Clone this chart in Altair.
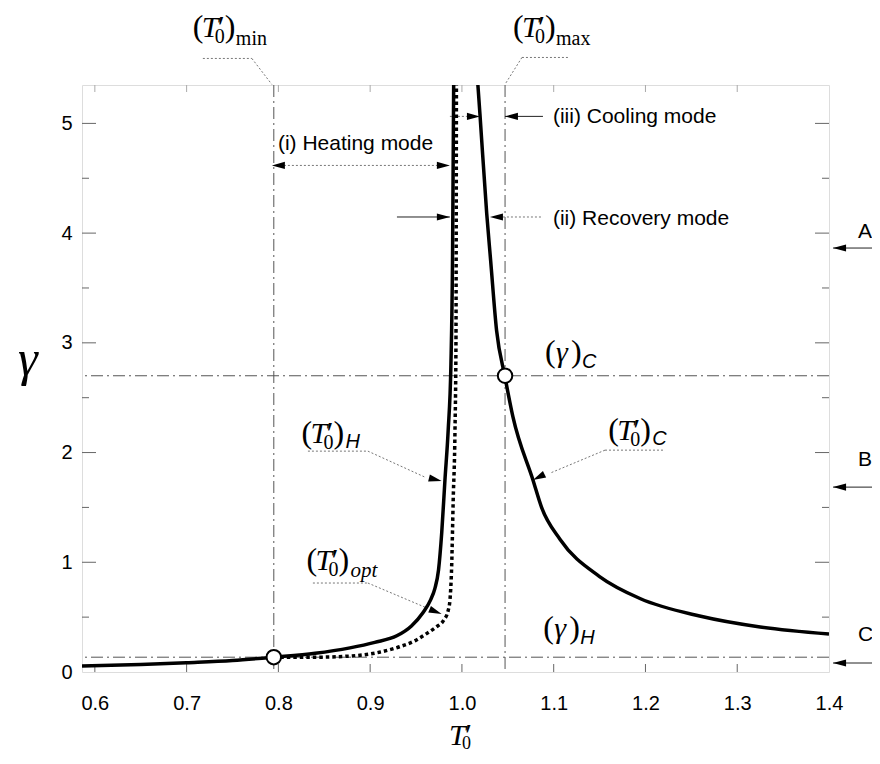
import altair as alt
import pandas as pd

# ---------------- data ----------------
h_x = [0.586, 0.65, 0.70, 0.75, 0.795, 0.84, 0.878, 0.905, 0.929, 0.945, 0.9575, 0.966, 0.9705, 0.9745, 0.978, 0.9815, 0.985, 0.988, 0.9898, 0.991]
h_y = [0.055, 0.068, 0.085, 0.105, 0.135, 0.17, 0.22, 0.27, 0.33, 0.42, 0.54, 0.66, 0.76, 0.93, 1.27, 1.75, 2.2, 2.8, 3.8, 5.35]
opt_x = [0.795, 0.84, 0.878, 0.91, 0.932, 0.95, 0.9615, 0.972, 0.98, 0.985, 0.987, 0.9888, 0.9905, 0.9924, 0.9935, 0.994]
opt_y = [0.135, 0.135, 0.145, 0.18, 0.23, 0.29, 0.35, 0.41, 0.47, 0.56, 0.66, 0.96, 1.57, 2.18, 3.0, 5.35]
c_x = [1.0174, 1.0196, 1.027, 1.0313, 1.0378, 1.0469, 1.0556, 1.0774, 1.0868, 1.1068, 1.15, 1.194, 1.259, 1.325, 1.4]
c_y = [5.35, 5.09, 4.18, 3.75, 3.11, 2.69, 2.325, 1.75, 1.50, 1.21, 0.87, 0.67, 0.51, 0.41, 0.346]

T_min, T_max = 0.795, 1.047
gamma_C, gamma_H = 2.70, 0.135

x_ticks = [0.6, 0.7, 0.8, 0.9, 1.0, 1.1, 1.2, 1.3, 1.4]
y_ticks = [0, 1, 2, 3, 4, 5]
y_major = [1, 2, 3, 4, 5]
y_minor = [0.5, 1.5, 2.5, 3.5, 4.5]
x_inner = [0.6, 0.7, 0.8, 0.9, 1.0, 1.1, 1.2, 1.3]

mode_text = ["(i) Heating mode", "(iii) Cooling mode", "(ii) Recovery mode"]
mode_x = [0.7995, 1.0992, 1.0992]
mode_y = [4.754, 5.0, 4.071]

side_text = ["A", "B", "C"]
side_label_y = [4.007, 1.931, 0.337]
side_arrow_y = [3.864, 1.685, 0.082]

# leader (dotted grey) segments
lead_x = [0.7177, 0.7711, 1.0654, 1.0654, 0.8322, 0.8975, 0.8376, 0.8975, 1.1559, 1.1559, 0.806, 0.9869, 1.0447]
lead_y = [5.592, 5.592, 5.601, 5.601, 2.013, 2.013, 0.811, 0.811, 2.022, 2.022, 4.617, 5.064, 4.147]
lead_x2 = [0.7711, 0.7929, 1.1155, 1.0469, 0.8975, 0.9597, 0.8975, 0.9619, 1.2213, 1.0959, 0.974, 1.0054, 1.0883]
lead_y2 = [5.592, 5.355, 5.601, 5.355, 2.013, 1.776, 0.811, 0.583, 2.022, 1.812, 4.617, 5.064, 4.147]

# thin solid arrow shafts
shaft_x = [0.9292, 1.0469, 1.4044, 1.4044, 1.4044]
shaft_y = [4.147, 5.064] + side_arrow_y
shaft_x2 = [0.9869, 1.0883, 1.4556, 1.4556, 1.4556]

# arrow heads: tip position and direction (degrees clockwise, 0 = pointing right)
head_x = [0.7929, 0.9869, 1.0196, 1.0469, 0.9869, 1.0305, 0.9779, 0.9779, 1.0774, 1.4044, 1.4044, 1.4044]
head_y = [4.617, 4.617, 5.064, 5.064, 4.147, 4.147, 1.740, 0.528, 1.749] + side_arrow_y
head_a = [180, 0, 0, 180, 0, 180, 14, 22, 153, 180, 180, 180]

# math labels (anchor = left edge / baseline)
tl_x = [0.7068, 1.0556, 0.8253, 0.8307, 1.1595]
tl_y = [5.783, 5.783, 2.086, 0.929, 2.113]
tl_sub = ["min", "max", "H", "opt", "C"]
gl_x = [1.0905, 1.0886]
gl_y = [2.826, 0.31]
gl_sub = ["C", "H"]

# ---------------- chart ----------------
W, H = 747, 587
xs = alt.Scale(domain=[0.586, 1.4], nice=False, zero=False)
ys = alt.Scale(domain=[0, 5.35], nice=False, zero=False)
xaxis = alt.Axis(values=x_ticks, format=".1f", ticks=False, domain=False, grid=False,
                 labelFont="Liberation Sans", labelFontSize=20, labelColor="black",
                 labelPadding=21, labelFlush=False, title=None)
yaxis = alt.Axis(values=y_ticks, format="d", ticks=False, domain=False, grid=False,
                 labelFont="Liberation Sans", labelFontSize=20, labelColor="black",
                 labelPadding=10, title=None)


def X(f):
    return alt.X(f, type="quantitative", scale=xs, axis=xaxis)


def Y(f):
    return alt.Y(f, type="quantitative", scale=ys, axis=yaxis)


layers = []

# inner tick marks
layers.append(alt.Chart(pd.DataFrame({"x": x_inner})).mark_rule(color="#666", strokeWidth=1)
              .encode(x=X("x"), y=alt.value(H), y2=alt.value(H - 8)))
layers.append(alt.Chart(pd.DataFrame({"x": x_inner})).mark_rule(color="#aaa", strokeWidth=1)
              .encode(x=X("x"), y=alt.value(0), y2=alt.value(7)))
for vals, ln in ((y_major, 14), (y_minor, 7)):
    layers.append(alt.Chart(pd.DataFrame({"y": vals})).mark_rule(color="#666", strokeWidth=1)
                  .encode(y=Y("y"), x=alt.value(0), x2=alt.value(ln)))
    layers.append(alt.Chart(pd.DataFrame({"y": vals})).mark_rule(color="#666", strokeWidth=1)
                  .encode(y=Y("y"), x=alt.value(W), x2=alt.value(W - ln)))

# reference dash-dot lines
layers.append(alt.Chart(pd.DataFrame({"x": [T_min, T_max]}))
              .mark_rule(color="#555", strokeWidth=1, strokeDash=[12, 4, 2, 4]).encode(x=X("x")))
layers.append(alt.Chart(pd.DataFrame({"y": [gamma_C, gamma_H]}))
              .mark_rule(color="#555", strokeWidth=1, strokeDash=[12, 4, 2, 4]).encode(y=Y("y")))

# leaders and shafts
layers.append(alt.Chart(pd.DataFrame({"x": lead_x, "y": lead_y, "x2": lead_x2, "y2": lead_y2}))
              .mark_rule(color="#777", strokeWidth=1, strokeDash=[2, 2])
              .encode(x=X("x"), y=Y("y"), x2="x2", y2="y2"))
layers.append(alt.Chart(pd.DataFrame({"x": shaft_x, "y": shaft_y, "x2": shaft_x2}))
              .mark_rule(color="#222", strokeWidth=1)
              .encode(x=X("x"), y=Y("y"), x2="x2"))

# curves
layers.append(alt.Chart(pd.DataFrame({"x": h_x, "y": h_y}))
              .mark_line(color="black", strokeWidth=3.5, interpolate="monotone", clip=True)
              .encode(x=X("x"), y=Y("y")))
layers.append(alt.Chart(pd.DataFrame({"x": c_x, "y": c_y}))
              .mark_line(color="black", strokeWidth=3.5, interpolate="monotone", clip=True)
              .encode(x=X("x"), y=Y("y")))
layers.append(alt.Chart(pd.DataFrame({"x": opt_x, "y": opt_y}))
              .mark_line(color="black", strokeWidth=3.5, strokeDash=[3.5, 3], interpolate="monotone", clip=True)
              .encode(x=X("x"), y=Y("y")))

# open circles
layers.append(alt.Chart(pd.DataFrame({"x": [T_min, T_max], "y": [gamma_H, gamma_C]}))
              .mark_point(shape="circle", filled=True, fill="white", stroke="black", strokeWidth=2,
                          size=210, opacity=1)
              .encode(x=X("x"), y=Y("y")))

# arrow heads
ARROW = "M 0 0 L -2 -0.55 L -2 0.55 Z"
layers.append(alt.Chart(pd.DataFrame({"x": head_x, "y": head_y, "a": head_a}))
              .mark_point(shape=ARROW, filled=True, color="black", size=169, opacity=1)
              .encode(x=X("x"), y=Y("y"), angle=alt.Angle("a", type="quantitative", scale=None)))

# plain texts
layers.append(alt.Chart(pd.DataFrame({"x": mode_x, "y": mode_y, "t": mode_text}))
              .mark_text(font="Liberation Sans", fontSize=21, align="left", baseline="alphabetic", color="black")
              .encode(x=X("x"), y=Y("y"), text="t"))
layers.append(alt.Chart(pd.DataFrame({"x": [1.4316] * 3, "y": side_label_y, "t": side_text}))
              .mark_text(font="Liberation Sans", fontSize=21, align="left", baseline="middle", color="black")
              .encode(x=X("x"), y=Y("y"), text="t"))


def piece(xv, yv, text, dx, dy, size, font="Liberation Serif", style="normal"):
    return (alt.Chart(pd.DataFrame({"x": xv, "y": yv, "t": text}))
            .mark_text(font=font, fontSize=size, fontStyle=style, align="left",
                       baseline="alphabetic", dx=dx, dy=dy, color="black")
            .encode(x=X("x"), y=Y("y"), text="t"))


n = len(tl_x)
layers.append(piece(tl_x, tl_y, ["("] * n, 0, 0, 32))
layers.append(piece(tl_x, tl_y, ["T"] * n, 9, 0, 30, style="italic"))
layers.append(piece(tl_x, tl_y, ["\u2032"] * n, 25, 1, 32))
layers.append(piece(tl_x, tl_y, ["0"] * n, 22, 6, 20))
layers.append(piece(tl_x, tl_y, [")"] * n, 32, 0, 32))
layers.append(piece(tl_x[:2], tl_y[:2], tl_sub[:2], 43, 8, 20))
layers.append(piece([tl_x[2], tl_x[4]], [tl_y[2], tl_y[4]], [tl_sub[2], tl_sub[4]], 44, 5, 20,
                    font="Liberation Sans", style="italic"))
layers.append(piece([tl_x[3]], [tl_y[3]], [tl_sub[3]], 44, 7, 21, style="italic"))

m = len(gl_x)
layers.append(piece(gl_x, gl_y, ["("] * m, 0, 0, 32))
layers.append(piece(gl_x, gl_y, ["\u03b3"] * m, 11, 0, 30, style="italic"))
layers.append(piece(gl_x, gl_y, [")"] * m, 26, 0, 32))
layers.append(piece(gl_x, gl_y, gl_sub, 37, 6, 20, font="Liberation Sans", style="italic"))

# axis titles
layers.append(alt.Chart(pd.DataFrame({"x": [0.527], "y": [2.842], "t": ["\u03b3"]}))
              .mark_text(font="Liberation Serif", fontSize=50, fontStyle="italic", align="center",
                         baseline="middle", color="black")
              .encode(x=X("x"), y=Y("y"), text="t"))
layers.append(piece([0.9858], [-0.665], ["T"], 0, 0, 30, style="italic"))
layers.append(piece([0.9858], [-0.665], ["\u2032"], 16, 1, 32))
layers.append(piece([0.9858], [-0.665], ["0"], 13, 4, 18))

chart = (alt.layer(*layers)
         .properties(width=W, height=H,
                     autosize=alt.AutoSizeParams(type="none"),
                     padding={"left": 74, "top": 77, "right": 43, "bottom": 78})
         .configure_view(stroke="black", strokeWidth=3)
         .configure(background="white"))

chart.save("out.html", embed_options={"renderer": "svg", "actions": False})
